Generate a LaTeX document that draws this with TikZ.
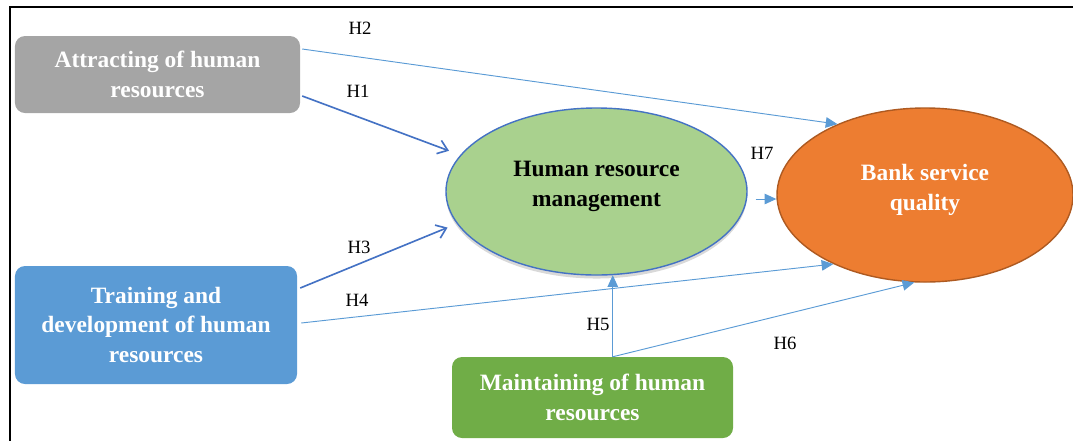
\documentclass[tikz,border=0pt]{standalone}
\usepackage{fontspec}
\setmainfont{Liberation Serif}
\usepackage{xcolor}
\usetikzlibrary{arrows.meta, positioning, shapes.geometric, calc, shadows}

\definecolor{attrgray}{HTML}{A5A5A5}
\definecolor{trainblue}{HTML}{5B9BD5}
\definecolor{maintgreen}{HTML}{70AD47}
\definecolor{hrmgreen}{HTML}{A9D18E}
\definecolor{hrmline}{HTML}{4472C4}
\definecolor{bankorange}{HTML}{ED7D31}
\definecolor{bankline}{HTML}{AE5A21}
\definecolor{linkblue}{HTML}{5B9BD5}

\begin{document}
\begin{tikzpicture}[x=0.03cm, y=-0.03cm, >=Stealth,
    factor/.style={rectangle, rounded corners=0.3cm, inner sep=0pt, align=center, text=white,
        font=\bfseries\fontsize{20}{25.5}\selectfont},
    construct/.style={ellipse, inner sep=0pt, align=center, line width=1.2pt, text depth=12.5pt,
        font=\bfseries\fontsize{20}{25.5}\selectfont},
    weak/.style={draw=linkblue, line width=0.8pt, -{Triangle[length=10pt, width=9pt]}},
    strong/.style={draw=hrmline, line width=1.4pt, -{Straight Barb[length=8pt, width=12pt]}},
    hyp/.style={inner sep=0pt, font=\fontsize{16}{18}\selectfont}]

    \useasboundingbox (0,0) rectangle (1073,440);
    \clip (0,0) rectangle (1073,440);
    \draw[line width=1.7pt] (10,460) -- (10,7) -- (1090,7);

    \node[factor, fill=attrgray, minimum width=8.55cm, minimum height=2.31cm] (attract) at (157.5,74.5) {Attracting of human\\resources};
    \node[factor, fill=trainblue, minimum width=8.46cm, minimum height=3.54cm] (training) at (156,325) {Training and\\development of human\\resources};
    \node[factor, fill=maintgreen, minimum width=8.43cm, minimum height=2.43cm] (maintain) at (592.5,397.5) {Maintaining of human\\resources};
    \node[construct, draw=hrmline, fill=hrmgreen, minimum width=9.03cm, minimum height=5.01cm,
        drop shadow={shadow xshift=0pt, shadow yshift=-3pt, opacity=0.3}] (hrm) at (596.5,191.5) {Human resource\\management};
    \node[construct, draw=bankline, fill=bankorange, text=white, minimum width=8.88cm, minimum height=5.22cm] (bank) at (925,195) {Bank service\\quality};

    \coordinate (split) at (hrm.281 |- maintain.north);

    \draw[strong, shorten >=0.36cm] ($(attract.east)+(2,21.5)$) -- (hrm.165);
    \draw[weak] ($(attract.east)+(2,-25.5)$) -- (bank.141);
    \draw[strong, shorten >=0.3cm] ($(training.east)+(3,-37)$) -- (hrm.193);
    \draw[weak] ($(training.east)+(4,-2)$) -- (bank.217);
    \draw[weak] (split) -- (hrm.281);
    \draw[weak] (split) -- (bank.263);
    \draw[weak] ($(hrm.east)+(8,7.5)$) -- ($(bank.west)+(0,4)$);

    \node[hyp] (h1) at (358,91) {H1};
    \node[hyp] (h2) at (360,28) {H2};
    \node[hyp] (h3) at (359,247) {H3};
    \node[hyp] (h4) at (357,300) {H4};
    \node[hyp] (h5) at (598,324) {H5};
    \node[hyp] (h6) at (785,343) {H6};
    \node[hyp] (h7) at (762,153) {H7};
\end{tikzpicture}
\end{document}
